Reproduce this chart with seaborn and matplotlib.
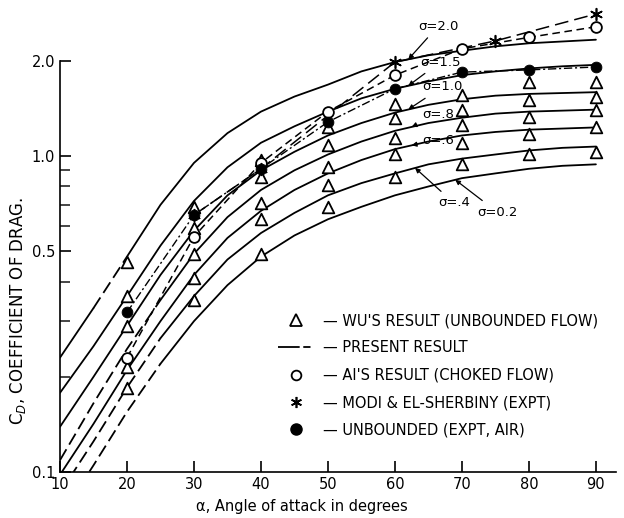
import numpy as np
import pandas as pd
import matplotlib
matplotlib.use("Agg")
import matplotlib.pyplot as plt
from matplotlib.lines import Line2D
from matplotlib.ticker import FixedLocator, NullFormatter
import seaborn as sns

# --- data ---
alpha = [10, 15, 20, 25, 30, 35, 40, 45, 50, 55, 60, 65, 70, 75, 80, 85, 90]

sigma_names = ["2.0", "1.5", "1.0", ".8", ".6", ".4", "0.2"]
cd_s20 = [0.23, 0.33, 0.48, 0.70, 0.95, 1.18, 1.38, 1.54, 1.68, 1.85, 1.98, 2.08, 2.15, 2.22, 2.27, 2.30, 2.33]
cd_s15 = [0.178, 0.25, 0.36, 0.52, 0.72, 0.92, 1.10, 1.24, 1.38, 1.52, 1.63, 1.72, 1.80, 1.85, 1.89, 1.92, 1.94]
cd_s10 = [0.139, 0.20, 0.29, 0.42, 0.58, 0.75, 0.90, 1.03, 1.16, 1.27, 1.37, 1.45, 1.51, 1.55, 1.57, 1.58, 1.59]
cd_s08 = [0.109, 0.165, 0.245, 0.35, 0.49, 0.64, 0.78, 0.90, 1.01, 1.11, 1.20, 1.27, 1.32, 1.36, 1.38, 1.39, 1.40]
cd_s06 = [0.098, 0.142, 0.21, 0.30, 0.42, 0.55, 0.67, 0.78, 0.88, 0.97, 1.05, 1.11, 1.16, 1.19, 1.21, 1.22, 1.23]
cd_s04 = [0.086, 0.125, 0.185, 0.265, 0.36, 0.47, 0.57, 0.66, 0.75, 0.82, 0.88, 0.94, 0.98, 1.01, 1.04, 1.06, 1.07]
cd_s02 = [0.072, 0.105, 0.155, 0.22, 0.30, 0.39, 0.48, 0.56, 0.63, 0.69, 0.75, 0.80, 0.85, 0.88, 0.91, 0.93, 0.94]
curves = [cd_s20, cd_s15, cd_s10, cd_s08, cd_s06, cd_s04, cd_s02]

# dashed part of each "present result" curve (start, end angle)
dash_from = [15, 10, 10, 10, 10, 10, 10]
dash_to = [20, 10, 10, 25, 10, 25, 25]

wu_alpha = [20, 30, 40, 50, 60, 70, 80, 90]
wu_1 = [0.185, 0.35, 0.49, 0.69, 0.86, 0.94, 1.01, 1.03]
wu_2 = [0.215, 0.41, 0.63, 0.81, 1.01, 1.10, 1.17, 1.23]
wu_3 = [0.29, 0.49, 0.71, 0.92, 1.14, 1.25, 1.33, 1.40]
wu_4 = [0.36, 0.59, 0.86, 1.08, 1.32, 1.40, 1.50, 1.53]
wu_5 = [0.46, 0.69, 0.97, 1.23, 1.46, 1.56, 1.71, 1.71]

ai_alpha = [20, 30, 40, 50, 60, 70, 80, 90]
ai_cd = [0.23, 0.555, 0.95, 1.38, 1.80, 2.18, 2.37, 2.56]

modi_alpha = [30, 40, 60, 75, 90]
modi_cd = [0.65, 0.91, 1.98, 2.31, 2.81]

unb_alpha = [20, 30, 40, 50, 60, 70, 80, 90]
unb_cd = [0.32, 0.65, 0.91, 1.28, 1.63, 1.84, 1.87, 1.91]

sns.set_style("ticks")
plt.rcParams["font.family"] = ["DejaVu Sans"]
plt.rcParams["text.color"] = "black"
plt.rcParams["axes.labelcolor"] = "black"

fig = plt.figure(figsize=(6.24, 5.18), dpi=100)
ax = fig.add_axes([60 / 624, 46 / 518, 556 / 624, 467 / 518])

# --- present result curves ---
for cd, d0, d1 in zip(curves, dash_from, dash_to):
    df = pd.DataFrame({"alpha": alpha, "cd": cd})
    parts = [
        (df[df.alpha <= d0], "-"),
        (df[(df.alpha >= d0) & (df.alpha <= d1)], (0, (7, 3))),
        (df[df.alpha >= d1], "-"),
    ]
    for part, ls in parts:
        if len(part) > 1:
            sns.lineplot(data=part, x="alpha", y="cd", ax=ax, color="black",
                         lw=1.3, linestyle=ls, sort=False, estimator=None)

# --- comparison lines ---
sns.lineplot(x=ai_alpha, y=ai_cd, ax=ax, color="black", lw=1.1,
             linestyle=(0, (5, 3)), estimator=None)
sns.lineplot(x=modi_alpha, y=modi_cd, ax=ax, color="black", lw=1.1,
             linestyle=(0, (9, 4)), estimator=None)
sns.lineplot(x=unb_alpha, y=unb_cd, ax=ax, color="black", lw=1.0,
             linestyle=(0, (6, 2, 1.5, 2)), estimator=None)

# --- markers ---
for wu in [wu_1, wu_2, wu_3, wu_4, wu_5]:
    sns.scatterplot(x=wu_alpha, y=wu, ax=ax, marker="^", s=70,
                    facecolor="white", edgecolor="black", linewidth=1.3, zorder=5)
sns.scatterplot(x=ai_alpha, y=ai_cd, ax=ax, marker="o", s=60,
                facecolor="white", edgecolor="black", linewidth=1.3, zorder=6)
sns.scatterplot(x=unb_alpha, y=unb_cd, ax=ax, marker="o", s=60,
                color="black", edgecolor="black", zorder=6)
sns.scatterplot(x=modi_alpha, y=modi_cd, ax=ax, marker=(6, 2, 0), s=70,
                color="black", linewidth=1.2, zorder=7)

# --- axes ---
ax.set_yscale("log")
ax.set_xlim(10, 93)
ax.set_ylim(0.1, 3.0)
ax.set_xticks([10, 20, 30, 40, 50, 60, 70, 80, 90])
ax.set_xticklabels(["10", "20", "30", "40", "50", "60", "70", "80", "90"])
ax.yaxis.set_major_locator(FixedLocator([0.1, 0.5, 1.0, 2.0]))
ax.set_yticklabels(["0.1", "0.5", "1.0", "2.0"])
ax.yaxis.set_minor_locator(FixedLocator([0.2, 0.3, 0.4, 0.6, 0.7, 0.8, 0.9]))
ax.yaxis.set_minor_formatter(NullFormatter())
ax.tick_params(axis="both", which="major", direction="in", length=8,
               width=1.2, labelsize=10.5, colors="black")
ax.tick_params(axis="y", which="minor", direction="in", length=7, width=1.2)
sns.despine(ax=ax)
ax.spines["left"].set_bounds(0.1, 2.0)
for s in ["left", "bottom"]:
    ax.spines[s].set_linewidth(1.2)
    ax.spines[s].set_color("black")

ax.set_xlabel("α, Angle of attack in degrees", fontsize=10.5)
ax.set_ylabel("C$_D$, COEFFICIENT OF DRAG.", fontsize=12)
ax.xaxis.set_label_coords(0.435, -0.058)
ax.yaxis.set_label_coords(-0.058, 0.345)

# --- sigma labels with arrows ---
label_pos = [(418, 26), (420, 62), (422, 87), (422, 115), (422, 140), (438, 203), (477, 212)]
tip_alpha = [62.0, 62.0, 62.0, 62.5, 62.5, 63.0, 69.0]
for name, cd, (px, py), ta in zip(sigma_names, curves, label_pos, tip_alpha):
    tip = (ta, np.interp(ta, alpha, cd))
    ax.annotate("σ=" + name, xy=tip, xycoords="data",
                xytext=(px, 518 - py), textcoords="figure pixels",
                fontsize=9.5, ha="left", va="center",
                arrowprops=dict(arrowstyle="-|>", color="black", lw=0.9,
                                mutation_scale=7, shrinkA=2, shrinkB=0))

# --- legend ---
handles = [
    Line2D([], [], marker="^", ls="none", mfc="white", mec="black", ms=8.5, mew=1.3),
    Line2D([], [], color="black", lw=1.3, ls=(0, (12, 2, 4, 2))),
    Line2D([], [], marker="o", ls="none", mfc="white", mec="black", ms=7, mew=1.3),
    Line2D([], [], marker=(6, 2, 0), ls="none", color="black", ms=8, mew=1.2),
    Line2D([], [], marker="o", ls="none", color="black", ms=8),
]
labels = [
    "— WU'S RESULT (UNBOUNDED FLOW)",
    "— PRESENT RESULT",
    "— AI'S RESULT (CHOKED FLOW)",
    "— MODI & EL-SHERBINY (EXPT)",
    "— UNBOUNDED (EXPT, AIR)",
]
fig.legend(handles, labels, loc="upper left", bbox_to_anchor=(278 / 624, (518 - 313) / 518),
           frameon=False, fontsize=10.5, handlelength=2.5, handletextpad=0.6,
           labelspacing=0.85, borderpad=0, borderaxespad=0)

fig.savefig("out.png", dpi=100, facecolor="white")
